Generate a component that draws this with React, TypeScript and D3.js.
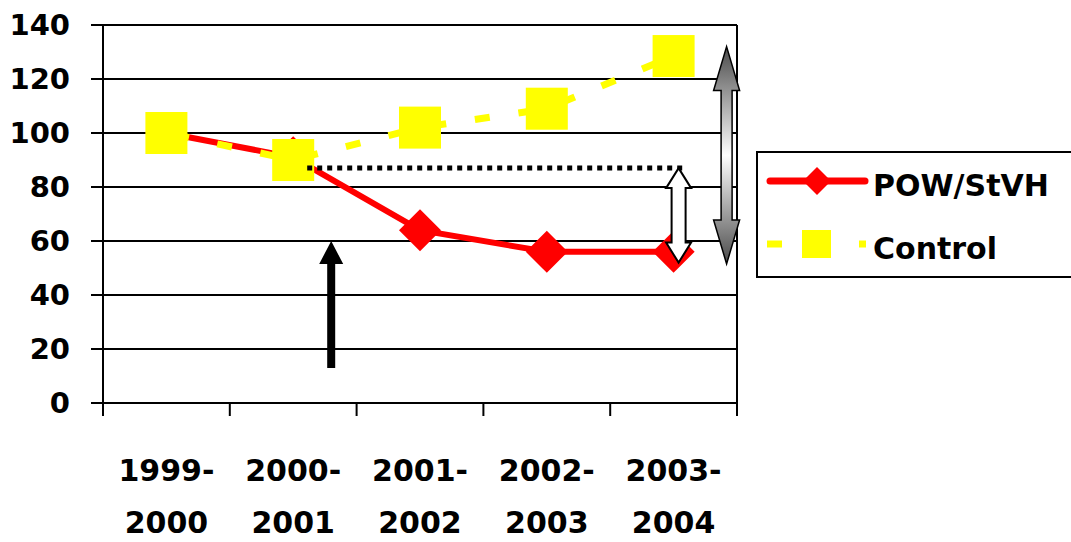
import * as d3 from "d3";

const periods = ["1999-2000", "2000-2001", "2001-2002", "2002-2003", "2003-2004"];
const powValues = [100, 91, 64, 56, 56];
const controlValues = [100, 90, 102, 109, 128.5];
const yTicks = [0, 20, 40, 60, 80, 100, 120, 140];
const seriesNames = ["POW/StVH", "Control"];

const W = 1071;
const H = 542;
const FONT = "'DejaVu Sans', Verdana, sans-serif";

export default function App() {
  const left = 103;
  const right = 737;
  const top = 25;
  const bottom = 403;

  const x = d3.scaleBand<string>().domain(periods).range([left, right]);
  const y = d3.scaleLinear().domain([0, 140]).range([bottom, top]);
  const cx = (p: string) => (x(p) as number) + x.bandwidth() / 2;

  const line = d3
    .line<number>()
    .x((_, i) => cx(periods[i]))
    .y((d) => y(d));

  const diamond = (s: number) => `M0,${-s}L${s},0L0,${s}L${-s},0Z`;

  // annotation arrows (positions in data units)
  const arrowUp = { x: cx(periods[1]) + 38, from: 13, to: 60 };
  const dotted = { x1: cx(periods[1]) + 14, x2: cx(periods[4]) + 13, v: 87 };
  const whiteArrow = { x: cx(periods[4]) + 5, from: 87, to: 52 };
  const grayArrow = { x: cx(periods[4]) + 53, from: 132, to: 51.5 };

  const doubleArrow = (xc: number, y1: number, y2: number, headW: number, headL: number, shaftW: number) => {
    const h = headW / 2;
    const s = shaftW / 2;
    return `M${xc},${y1}L${xc + h},${y1 + headL}L${xc + s},${y1 + headL}L${xc + s},${y2 - headL}L${xc + h},${y2 - headL}L${xc},${y2}L${xc - h},${y2 - headL}L${xc - s},${y2 - headL}L${xc - s},${y1 + headL}L${xc - h},${y1 + headL}Z`;
  };

  return (
    <svg
      width={W}
      height={H}
      style={{ position: "absolute", left: 0, top: 0, background: "#fff" }}
      fontFamily={FONT}
      fontWeight="bold"
    >
      <defs>
        <linearGradient id="grayGrad" x1="0" y1="0" x2="0" y2="1">
          <stop offset="0" stopColor="#4a4a4a" />
          <stop offset="0.5" stopColor="#ffffff" />
          <stop offset="1" stopColor="#4a4a4a" />
        </linearGradient>
      </defs>

      {/* gridlines */}
      {yTicks.slice(1).map((t) => (
        <line key={t} x1={left} x2={right} y1={y(t)} y2={y(t)} stroke="#000" strokeWidth={2} />
      ))}
      <line x1={right} x2={right} y1={top} y2={bottom} stroke="#000" strokeWidth={2} />

      {/* y axis */}
      <line x1={left} x2={left} y1={top} y2={bottom + 1} stroke="#000" strokeWidth={2} />
      {yTicks.map((t) => (
        <g key={t}>
          <line x1={left - 12} x2={left} y1={y(t)} y2={y(t)} stroke="#000" strokeWidth={2} />
          <text x={70} y={y(t)} dy="0.36em" textAnchor="end" fontSize={29}>
            {t}
          </text>
        </g>
      ))}

      {/* x axis */}
      <line x1={left} x2={right} y1={bottom} y2={bottom} stroke="#000" strokeWidth={2} />
      {[...periods.map((p) => x(p) as number), right].map((v, i) => (
        <line key={i} x1={v} x2={v} y1={bottom} y2={bottom + 13} stroke="#000" strokeWidth={2} />
      ))}
      {periods.map((p) => {
        const [a, b] = p.split("-");
        return (
          <g key={p}>
            <text x={cx(p)} y={481} textAnchor="middle" fontSize={30}>
              {a + "-"}
            </text>
            <text x={cx(p)} y={533} textAnchor="middle" fontSize={30}>
              {b}
            </text>
          </g>
        );
      })}

      {/* POW/StVH */}
      <path d={line(powValues) as string} fill="none" stroke="#ff0000" strokeWidth={6} />
      {powValues.map((v, i) => (
        <path key={i} d={diamond(21)} transform={`translate(${cx(periods[i])},${y(v)})`} fill="#ff0000" />
      ))}

      {/* Control */}
      <path
        d={line(controlValues) as string}
        fill="none"
        stroke="#ffff00"
        strokeWidth={7}
        strokeDasharray="15 29"
        strokeDashoffset={-8}
      />
      {controlValues.map((v, i) => (
        <rect key={i} x={cx(periods[i]) - 21} y={y(v) - 21} width={42} height={42} fill="#ffff00" />
      ))}

      {/* dotted reference */}
      <line
        x1={dotted.x1}
        x2={dotted.x2}
        y1={y(dotted.v)}
        y2={y(dotted.v)}
        stroke="#000"
        strokeWidth={5}
        strokeDasharray="5 5"
      />

      {/* black arrow */}
      <path
        d={`M${arrowUp.x},${y(arrowUp.to)}L${arrowUp.x + 12},${y(arrowUp.to) + 23}L${arrowUp.x + 4},${y(arrowUp.to) + 23}L${arrowUp.x + 4},${y(arrowUp.from)}L${arrowUp.x - 4},${y(arrowUp.from)}L${arrowUp.x - 4},${y(arrowUp.to) + 23}L${arrowUp.x - 12},${y(arrowUp.to) + 23}Z`}
        fill="#000"
      />

      {/* white double arrow */}
      <path
        d={doubleArrow(whiteArrow.x, y(whiteArrow.from), y(whiteArrow.to), 25, 20, 14)}
        fill="#fff"
        stroke="#000"
        strokeWidth={2}
      />

      {/* gray double arrow */}
      <path
        d={doubleArrow(grayArrow.x, y(grayArrow.from), y(grayArrow.to), 26, 44, 11)}
        fill="url(#grayGrad)"
        stroke="#000"
        strokeWidth={1.5}
      />

      {/* legend */}
      <rect x={757} y={152} width={330} height={125} fill="#fff" stroke="#000" strokeWidth={2} />
      <line x1={770} x2={865} y1={181} y2={181} stroke="#ff0000" strokeWidth={7} strokeLinecap="round" />
      <path d={diamond(14)} transform="translate(817,181)" fill="#ff0000" />
      <text x={873} y={196} fontSize={30}>
        {seriesNames[0]}
      </text>
      <line x1={767} x2={782} y1={244} y2={244} stroke="#ffff00" strokeWidth={7} />
      <rect x={802} y={230} width={29} height={28} fill="#ffff00" />
      <line x1={859} x2={866} y1={244} y2={244} stroke="#ffff00" strokeWidth={7} />
      <text x={873} y={259} fontSize={30}>
        {seriesNames[1]}
      </text>
    </svg>
  );
}
